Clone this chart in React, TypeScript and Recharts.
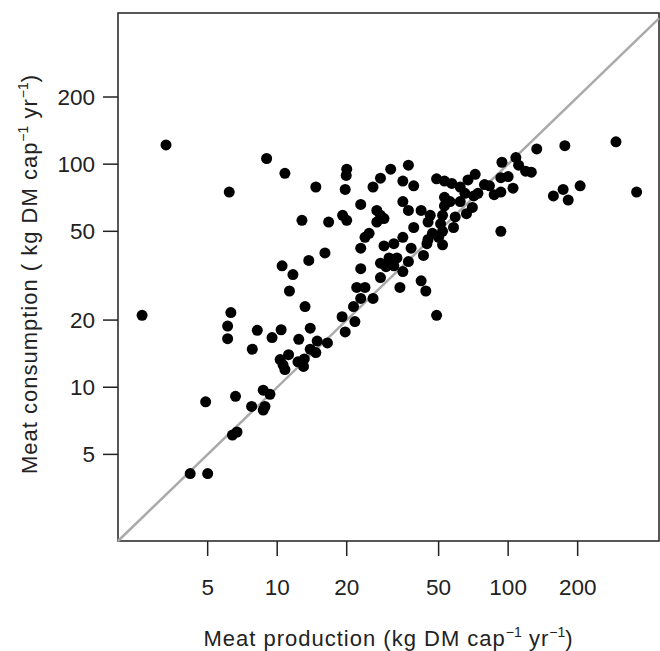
import {
  ScatterChart,
  Scatter,
  XAxis,
  YAxis,
  ReferenceLine,
  ReferenceArea,
} from "recharts";

// Meat production vs consumption per country (kg DM cap^-1 yr^-1)
const production = [
  2.6, 3.3, 6.2, 6.3, 6.1, 6.1, 4.9, 6.6, 4.2, 5.0, 6.4, 6.7, 9.0, 10.8, 14.7,
  12.8, 16.7, 19.2, 20.0, 20.0, 19.9, 19.7, 16.1, 13.7, 10.5, 11.7, 11.3, 13.2,
  21.4, 22.1, 8.2, 7.8, 9.5, 10.4, 12.4, 13.9, 19.1, 21.7, 19.7, 14.9, 16.5,
  13.9, 14.7, 11.2, 10.3, 10.6, 10.8, 12.3, 13.1, 13.0, 8.7, 9.3, 7.75, 8.85,
  8.7, 133, 176, 293, 94, 108, 111, 119, 126, 205, 173, 157, 182, 360, 93, 100,
  105, 93, 87, 83, 79, 72, 67, 49, 53, 57, 62, 65, 71, 74, 62, 70, 66, 56, 53,
  59, 58, 52, 42, 46, 45, 47, 51, 52, 50, 52, 45, 93, 43, 39, 37, 35, 35, 37,
  39, 31, 28, 26, 23, 27, 28, 29, 27, 25, 24, 35, 32, 29, 23, 38, 44.5, 33,
  30.5, 37, 28, 29.6, 32, 35, 23, 28, 42, 44, 34, 26, 24, 23, 49, 53,
];

const consumption = [
  21, 122, 75, 21.6, 18.8, 16.5, 8.6, 9.1, 4.1, 4.1, 6.1, 6.3, 106, 91, 79, 56,
  55, 59, 56, 95, 89, 77, 40, 37, 35, 32, 27, 23, 23, 28, 18, 14.8, 16.7, 18.1,
  16.4, 18.4, 20.7, 19.7, 17.7, 16.1, 15.8, 14.8, 14.3, 14.0, 13.3, 12.6, 12.0,
  13.0, 13.4, 12.4, 9.7, 9.3, 8.2, 8.2, 7.9, 117, 121, 126, 102, 107, 99, 93,
  92, 80, 77, 72, 69, 75, 87, 88, 78, 75, 73, 80, 81, 90, 85, 86, 84, 82, 79,
  74, 72, 74, 68, 64, 60, 68, 65, 58, 52, 59, 62, 59, 55, 49, 54, 50, 47, 43.5,
  46, 50, 39, 52, 62, 68, 84, 99, 80, 95, 86.5, 79, 66, 62, 59, 57, 55, 49, 47,
  47, 44, 43, 42, 42, 44, 38, 38, 36.6, 36, 34.7, 35, 33, 34, 31, 30, 27, 28,
  25, 28, 25, 21, 71,
];

const xTicks = [5, 10, 20, 50, 100, 200];
const yTicks = [5, 10, 20, 50, 100, 200];

const AXIS_MIN = 2.045;
const X_MAX = 450;
const Y_MAX = 476;

const FONT = "'Liberation Sans', Arial, Helvetica, sans-serif";
const TEXT = "#222";

const points = production.map((x, i) => ({ x, y: consumption[i] }));

const Dot = (props: any) => {
  const { cx, cy } = props;
  if (cx == null || cy == null) return null;
  return <circle cx={cx} cy={cy} r={5.5} fill="#000" />;
};

// "(kg DM cap^-1 yr^-1)" with raised exponents
const Units = () => (
  <>
    <tspan dy={-9} fontSize={14} letterSpacing={0}>
      −1
    </tspan>
    <tspan dy={9}> yr</tspan>
    <tspan dy={-9} fontSize={14} letterSpacing={0}>
      −1
    </tspan>
    <tspan dy={9}>)</tspan>
  </>
);

const XTitle = (props: any) => {
  const vb = props.viewBox || { x: 118, width: 541 };
  return (
    <text
      x={vb.x + vb.width / 2}
      y={646}
      textAnchor="middle"
      fontFamily={FONT}
      fontSize={22}
      letterSpacing={1}
      fill={TEXT}
    >
      Meat production (kg DM cap
      <Units />
    </text>
  );
};

const YTitle = (props: any) => {
  const vb = props.viewBox || { y: 13, height: 528 };
  const cx = 37;
  const cy = vb.y + vb.height / 2 - 3;
  return (
    <text
      x={cx}
      y={cy}
      transform={`rotate(-90, ${cx}, ${cy})`}
      textAnchor="middle"
      fontFamily={FONT}
      fontSize={22}
      letterSpacing={1}
      fill={TEXT}
    >
      Meat consumption ( kg DM cap
      <Units />
    </text>
  );
};

export default function App() {
  return (
    <div style={{ position: "absolute", left: 0, top: 0 }}>
      <ScatterChart
        width={660}
        height={651}
        margin={{ top: 13, right: 1, bottom: 0, left: 0 }}
        style={{ background: "#fff" }}
      >
        <XAxis
          type="number"
          dataKey="x"
          scale="log"
          domain={[AXIS_MIN, X_MAX]}
          allowDataOverflow
          ticks={xTicks}
          interval={0}
          height={110}
          axisLine={false}
          tickLine={{ stroke: TEXT, strokeWidth: 1.5 }}
          tickSize={15}
          tickMargin={23}
          tick={{ fill: TEXT, fontSize: 22.5, fontFamily: FONT }}
          label={{ content: <XTitle /> }}
        />
        <YAxis
          type="number"
          dataKey="y"
          scale="log"
          domain={[AXIS_MIN, Y_MAX]}
          allowDataOverflow
          ticks={yTicks}
          interval={0}
          width={118}
          axisLine={false}
          tickLine={{ stroke: TEXT, strokeWidth: 1.5 }}
          tickSize={15}
          tickMargin={8}
          tick={{ fill: TEXT, fontSize: 22.5, fontFamily: FONT }}
          label={{ content: <YTitle /> }}
        />
        <ReferenceArea
          x1={AXIS_MIN}
          x2={X_MAX}
          y1={AXIS_MIN}
          y2={Y_MAX}
          fill="none"
          fillOpacity={0}
          stroke={TEXT}
          strokeWidth={1.5}
        />
        <ReferenceLine
          segment={[
            { x: AXIS_MIN, y: AXIS_MIN },
            { x: X_MAX, y: X_MAX },
          ]}
          stroke="#aaa"
          strokeWidth={2.5}
        />
        <Scatter
          data={points}
          shape={<Dot />}
          isAnimationActive={false}
        />
      </ScatterChart>
    </div>
  );
}
